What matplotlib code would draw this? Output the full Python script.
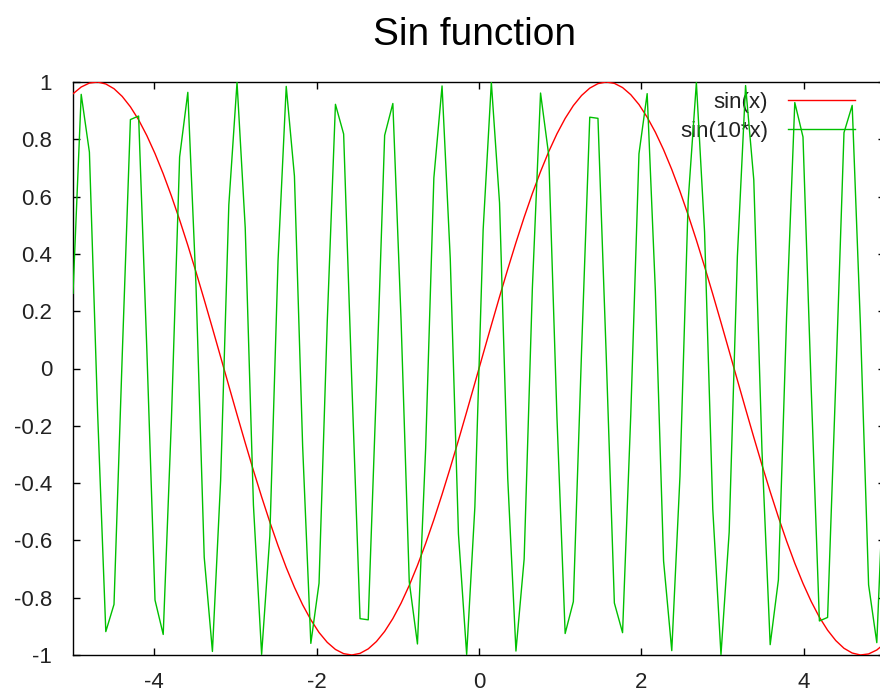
import matplotlib
matplotlib.use("Agg")
import matplotlib.pyplot as plt
from matplotlib.ticker import FuncFormatter

plt.rcParams['font.family'] = ['Liberation Sans', 'DejaVu Sans']
plt.rcParams['axes.unicode_minus'] = False

title = "Sin function"
labels = ["sin(x)", "sin(10*x)"]
colors = ["#ff0000", "#00c000"]

x_vals = [
    -5.000, -4.899, -4.798, -4.697, -4.596, -4.495, -4.394, -4.293, -4.192, -4.091,
    -3.990, -3.889, -3.788, -3.687, -3.586, -3.485, -3.384, -3.283, -3.182, -3.081,
    -2.980, -2.879, -2.778, -2.677, -2.576, -2.475, -2.374, -2.273, -2.172, -2.071,
    -1.970, -1.869, -1.768, -1.667, -1.566, -1.465, -1.364, -1.263, -1.162, -1.061,
    -0.960, -0.859, -0.758, -0.657, -0.556, -0.455, -0.354, -0.253, -0.152, -0.051,
    0.051, 0.152, 0.253, 0.354, 0.455, 0.556, 0.657, 0.758, 0.859, 0.960,
    1.061, 1.162, 1.263, 1.364, 1.465, 1.566, 1.667, 1.768, 1.869, 1.970,
    2.071, 2.172, 2.273, 2.374, 2.475, 2.576, 2.677, 2.778, 2.879, 2.980,
    3.081, 3.182, 3.283, 3.384, 3.485, 3.586, 3.687, 3.788, 3.889, 3.990,
    4.091, 4.192, 4.293, 4.394, 4.495, 4.596, 4.697, 4.798, 4.899, 5.000,
]

sin_x = [
    0.9589, 0.9825, 0.9963, 0.9999, 0.9931, 0.9766, 0.9497, 0.9134, 0.8680, 0.8131,
    0.7501, 0.6797, 0.6022, 0.5187, 0.4300, 0.3367, 0.2400, 0.1409, 0.0404, -0.0606,
    -0.1609, -0.2596, -0.3557, -0.4481, -0.5359, -0.6184, -0.6947, -0.7636, -0.8247, -0.8772,
    -0.9214, -0.9558, -0.9806, -0.9953, -1.0000, -0.9943, -0.9786, -0.9529, -0.9177, -0.8729,
    -0.8192, -0.7571, -0.6873, -0.6107, -0.5279, -0.4394, -0.3467, -0.2503, -0.1514, -0.0510,
    0.0510, 0.1514, 0.2503, 0.3467, 0.4394, 0.5279, 0.6107, 0.6873, 0.7571, 0.8192,
    0.8729, 0.9177, 0.9529, 0.9786, 0.9943, 1.0000, 0.9953, 0.9806, 0.9558, 0.9214,
    0.8772, 0.8247, 0.7636, 0.6947, 0.6184, 0.5359, 0.4481, 0.3557, 0.2596, 0.1609,
    0.0606, -0.0404, -0.1409, -0.2400, -0.3367, -0.4300, -0.5187, -0.6022, -0.6797, -0.7501,
    -0.8131, -0.8680, -0.9134, -0.9497, -0.9766, -0.9931, -0.9999, -0.9963, -0.9825, -0.9589,
]

sin_10x = [
    0.2624, 0.9569, 0.7552, -0.1536, -0.9184, -0.8233,
    0.0429, 0.8689, 0.8812, 0.0683, -0.8083, -0.9283,
    -0.1787, 0.7382, 0.9639, 0.2869, -0.6589, -0.9876,
    -0.3915, 0.5711, 0.9989, 0.4912, -0.4765, -0.9979,
    -0.5850, 0.3758, 0.9847, 0.6716, -0.2706, -0.9594,
    -0.7494, 0.1620, 0.9221, 0.8184, -0.0514, -0.8732,
    -0.8772, -0.0599, 0.8137, 0.9250, 0.1704, -0.7440,
    -0.9615, -0.2787, 0.6651, 0.9862, 0.3837, -0.5779,
    -0.9984, -0.4838,
    0.4838, 0.9984,
    0.5779, -0.3837, -0.9862, -0.6651, 0.2787, 0.9615,
    0.7440, -0.1704, -0.9250, -0.8137, 0.0599, 0.8772,
    0.8732, 0.0514, -0.8184, -0.9221, -0.1620, 0.7494,
    0.9594, 0.2706, -0.6716, -0.9847, -0.3758, 0.5850,
    0.9979, 0.4765, -0.4912, -0.9989, -0.5711, 0.3915,
    0.9876, 0.6589, -0.2869, -0.9639, -0.7382, 0.1787,
    0.9283, 0.8083, -0.0683, -0.8812, -0.8689, -0.0429,
    0.8233, 0.9184, 0.1536, -0.7552, -0.9569, -0.2624,
]

x_ticks = [-4, -2, 0, 2, 4]
y_ticks = [-1, -0.8, -0.6, -0.4, -0.2, 0, 0.2, 0.4, 0.6, 0.8, 1]

W, H = 880, 691
fig = plt.figure(figsize=(W / 100, H / 100), dpi=100)
ax = fig.add_axes([73 / W, (H - 655) / H, 812 / W, 573 / H])

l1, = ax.plot(x_vals, sin_x, color=colors[0], lw=1.0, label=labels[0], zorder=3)
l2, = ax.plot(x_vals, sin_10x, color=colors[1], lw=1.0, label=labels[1], zorder=3)

ax.set_xlim(-5, 5)
ax.set_ylim(-1, 1)
ax.set_xticks(x_ticks)
ax.set_yticks(y_ticks)
ax.xaxis.set_major_formatter(FuncFormatter(lambda v, p: "%g" % v))
ax.yaxis.set_major_formatter(FuncFormatter(lambda v, p: "%g" % round(v, 2)))
ax.tick_params(axis='both', direction='in', length=5, width=1, color='black',
               top=True, right=True, labelsize=16, labelcolor='#222222')
ax.tick_params(axis='y', pad=15)
ax.tick_params(axis='x', pad=12)
for sp in ax.spines.values():
    sp.set_linewidth(1)
    sp.set_color('black')

leg = ax.legend(handles=[l1, l2], loc='upper right', bbox_to_anchor=(0.963, 0.983),
                frameon=False, markerfirst=False, fontsize=16, handlelength=3.0,
                handletextpad=0.9, labelspacing=0.37, borderpad=0, borderaxespad=0)
for t in leg.get_texts():
    t.set_color('#222222')
leg.set_zorder(1)

fig.text(474 / W, 1 - 45 / H, title, ha='center', va='baseline', fontsize=28, color='black')

fig.savefig("out.png", dpi=100)
